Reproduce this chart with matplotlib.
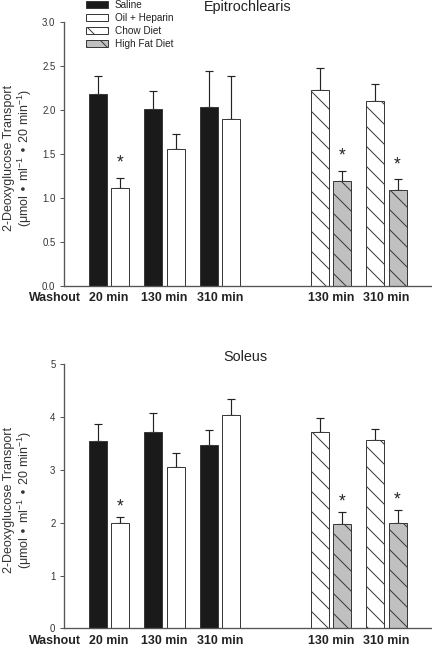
import numpy as np
import matplotlib
matplotlib.use("Agg")
import matplotlib.pyplot as plt
from matplotlib.patches import Patch
from matplotlib.transforms import blended_transform_factory

plt.rcParams["font.family"] = ["Liberation Sans", "DejaVu Sans"]
plt.rcParams["hatch.linewidth"] = 0.6

# Data
group_labels = ["20 min", "130 min", "310 min", "130 min", "310 min"]
group_pos = [0, 1, 2, 4, 5]

# Epitrochlearis
epi_saline = [2.18, 2.01, 2.03]
epi_saline_err = [0.20, 0.21, 0.41]
epi_oil = [1.11, 1.555, 1.90]
epi_oil_err = [0.12, 0.175, 0.49]
epi_chow = [2.225, 2.10]
epi_chow_err = [0.25, 0.195]
epi_hf = [1.19, 1.09]
epi_hf_err = [0.12, 0.125]

# Soleus
sol_saline = [3.54, 3.71, 3.48]
sol_saline_err = [0.32, 0.36, 0.28]
sol_oil = [1.99, 3.055, 4.035]
sol_oil_err = [0.12, 0.265, 0.315]
sol_chow = [3.71, 3.56]
sol_chow_err = [0.28, 0.22]
sol_hf = [1.97, 1.99]
sol_hf_err = [0.24, 0.25]

edge = "#3a3a3a"
off = 0.2
w = 0.325


def draw_panel(ax, saline, saline_err, oil, oil_err, chow, chow_err, hf, hf_err,
               ylim, yticks, yfmt, star_off):
    x1 = np.array(group_pos[:3], dtype=float)
    x2 = np.array(group_pos[3:], dtype=float)
    specs = [
        (x1 - off, saline, saline_err, "#1a1a1a", ""),
        (x1 + off, oil, oil_err, "white", ""),
        (x2 - off, chow, chow_err, "white", "\\\\"),
        (x2 + off, hf, hf_err, "#c0c0c0", "\\\\"),
    ]
    for x, v, e, fc, h in specs:
        ax.bar(x, v, width=w, color=fc, edgecolor=edge, linewidth=0.6,
               hatch=h, zorder=2)
        ax.errorbar(x, v, yerr=[np.zeros(len(v)), e], fmt="none",
                    ecolor="#222222", elinewidth=0.7, capsize=2.4,
                    capthick=0.7, zorder=1)
    # significance stars
    for x, v, e in [(x1[0] + off, oil[0], oil_err[0]),
                    (x2[0] + off, hf[0], hf_err[0]),
                    (x2[1] + off, hf[1], hf_err[1])]:
        ax.annotate("*", xy=(x, v + e), xytext=(0, star_off),
                    textcoords="offset points", ha="center", va="center",
                    fontsize=10.5, color="#222222")

    ax.set_xlim(-0.811, 5.82)
    ax.set_ylim(*ylim)
    ax.set_yticks(yticks)
    ax.set_yticklabels([yfmt.format(t) for t in yticks])
    ax.set_xticks([])
    for s in ["top", "right"]:
        ax.spines[s].set_visible(False)
    for s in ["left", "bottom"]:
        ax.spines[s].set_color("#555555")
        ax.spines[s].set_linewidth(0.8)
    ax.tick_params(axis="y", direction="out", length=2.6, width=0.6,
                   colors="#555555", labelcolor="#333333", labelsize=5.8, pad=2.5)

    tr = blended_transform_factory(ax.transData, ax.transAxes)
    for p, lab in zip(group_pos, group_labels):
        ax.annotate(lab, xy=(p, 0), xycoords=tr, xytext=(0, -7.6),
                    textcoords="offset points", ha="center", va="center",
                    fontsize=7.4, fontweight="bold", color="#222222",
                    annotation_clip=False)
    ax.annotate("Washout", xy=(-0.97, 0), xycoords=tr, xytext=(0, -7.6),
                textcoords="offset points", ha="center", va="center",
                fontsize=7.4, fontweight="bold", color="#222222",
                annotation_clip=False)

    ax.set_ylabel("2-Deoxyglucose Transport\n"
                  r"($\mathregular{\mu}$mol $\bullet$ ml$^{\mathregular{-1}}$ $\bullet$ 20 min$^{\mathregular{-1}}$)",
                  fontsize=7.5, color="#333333", linespacing=1.05)


fig = plt.figure(figsize=(3.6, 646 / 120), dpi=120)
ax1 = fig.add_axes([64 / 432, 1 - 285.7 / 646, 368 / 432, 263.7 / 646])
ax2 = fig.add_axes([64 / 432, 1 - 628.3 / 646, 368 / 432, 264.0 / 646])

draw_panel(ax1, epi_saline, epi_saline_err, epi_oil, epi_oil_err,
           epi_chow, epi_chow_err, epi_hf, epi_hf_err,
           (0, 3.0), [0, 0.5, 1.0, 1.5, 2.0, 2.5, 3.0], "{:.1f}", 8.5)
draw_panel(ax2, sol_saline, sol_saline_err, sol_oil, sol_oil_err,
           sol_chow, sol_chow_err, sol_hf, sol_hf_err,
           (0, 5), [0, 1, 2, 3, 4, 5], "{:.0f}", 6.0)

ax1.yaxis.set_label_coords(-30 / 368, 0.484)
ax2.yaxis.set_label_coords(-30 / 368, 0.486)

fig.text((64 + 432) / 2 / 432, 1 - 7 / 646, "Epitrochlearis", ha="center",
         va="center", fontsize=8.6, color="#222222")
fig.text((64 + 432) / 2 / 432 - 3 / 432, 1 - 357 / 646, "Soleus", ha="center",
         va="center", fontsize=8.6, color="#222222")

handles = [
    Patch(facecolor="#1a1a1a", edgecolor=edge, linewidth=0.6),
    Patch(facecolor="white", edgecolor=edge, linewidth=0.6),
    Patch(facecolor="white", edgecolor=edge, linewidth=0.6, hatch="\\\\"),
    Patch(facecolor="#c0c0c0", edgecolor=edge, linewidth=0.6, hatch="\\\\"),
]
names = ["Saline", "Oil + Heparin", "Chow Diet", "High Fat Diet"]
fig.legend(handles, names, loc="upper left", bbox_to_anchor=(86 / 432, 1.0),
           frameon=False, fontsize=6.0, handlelength=2.2, handleheight=0.75,
           handletextpad=0.7, labelspacing=0.3, borderpad=0, borderaxespad=0,
           labelcolor="#222222")

fig.savefig("out.png", dpi=120)
